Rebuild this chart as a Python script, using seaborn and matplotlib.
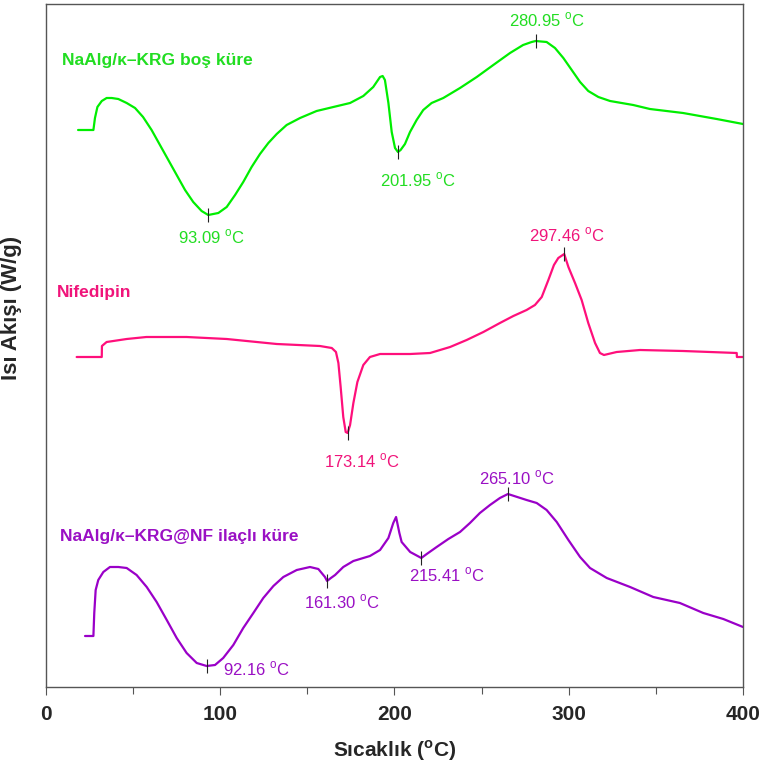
import matplotlib
matplotlib.use("Agg")
import matplotlib.pyplot as plt
import seaborn as sns
import pandas as pd
import numpy as np

# ---------------- data ----------------
green_T = [18.4, 27.2, 28.1, 29.5, 32.0, 34.8, 37.7, 41.5, 46.3, 51.1, 55.7, 60.6, 65.4, 70.2,
           75.0, 79.8, 84.5, 89.3, 93.1, 98.9, 103.7, 108.5, 113.2, 118.0, 122.8, 127.6,
           132.4, 138.1, 145.8, 155.3, 164.9, 174.5, 182.1, 187.8, 191.7, 193.2, 194.5,
           196.5, 198.4, 200.3, 202.0, 203.5, 206.0, 208.9, 212.7, 216.5, 221.3, 228.0,
           237.6, 247.2, 256.7, 266.3, 273.8, 278.7, 281.0, 287.3, 292.1, 296.9, 301.7,
           306.5, 311.2, 317.0, 323.7, 337.0, 346.6, 365.6, 384.9, 400.0]
green_H = [5.70, 5.70, 5.82, 5.93, 5.99, 6.02, 6.02, 6.01, 5.97, 5.92, 5.83, 5.70, 5.55, 5.40,
           5.25, 5.10, 4.98, 4.89, 4.85, 4.87, 4.93, 5.05, 5.18, 5.33, 5.46, 5.57,
           5.66, 5.75, 5.82, 5.89, 5.93, 5.97, 6.04, 6.13, 6.23, 6.24, 6.20,
           5.97, 5.68, 5.52, 5.48, 5.50, 5.56, 5.68, 5.80, 5.90, 5.97, 6.02,
           6.12, 6.23, 6.35, 6.47, 6.55, 6.58, 6.59, 6.58, 6.52, 6.42, 6.30,
           6.18, 6.09, 6.03, 5.99, 5.95, 5.91, 5.87, 5.81, 5.76]

pink_T = [17.6, 32.0, 32.1, 34.8, 46.3, 57.6, 80.7, 103.7, 132.4, 157.2, 164.0, 166.4,
          167.8, 169.1, 170.6, 172.0, 173.1, 174.5, 176.4, 178.7, 182.1, 185.9, 191.7,
          209.0, 220.4, 231.9, 241.4, 251.0, 260.5, 268.2, 275.8, 280.6, 284.5, 288.3,
          291.5, 294.0, 297.4, 299.8, 303.6, 307.4, 311.2, 315.1, 317.9, 320.2, 327.5,
          340.9, 365.7, 396.4, 396.5, 400.0]
pink_H = [3.43, 3.43, 3.54, 3.58, 3.61, 3.63, 3.63, 3.61, 3.56, 3.54, 3.52, 3.48,
          3.37, 3.13, 2.83, 2.68, 2.67, 2.75, 2.97, 3.18, 3.35, 3.43, 3.46,
          3.46, 3.47, 3.53, 3.60, 3.68, 3.77, 3.84, 3.90, 3.95, 4.03, 4.20,
          4.35, 4.42, 4.46, 4.33, 4.17, 4.00, 3.77, 3.57, 3.47, 3.45, 3.48,
          3.50, 3.49, 3.47, 3.43, 3.43]

purple_T = [22.4, 27.2, 27.7, 28.5, 30.0, 32.9, 36.7, 41.5, 46.3, 52.0, 57.8, 63.5, 69.3,
            75.0, 80.7, 86.5, 92.2, 97.0, 101.7, 107.5, 113.2, 119.0, 124.7, 130.5, 136.2,
            143.9, 151.5, 156.3, 160.1, 161.3, 163.5, 165.9, 170.6, 176.4, 185.9, 191.7,
            196.5, 199.3, 200.9, 202.8, 204.1, 209.0, 215.4, 218.5, 224.2, 230.9, 237.6,
            243.3, 249.0, 254.8, 260.5, 265.1, 275.8, 281.6, 287.3, 293.1, 299.8, 306.5,
            312.2, 321.8, 335.2, 348.5, 363.8, 377.2, 388.7, 400.0]
purple_H = [0.64, 0.64, 0.87, 1.10, 1.20, 1.28, 1.33, 1.33, 1.32, 1.25, 1.13, 0.98, 0.80,
            0.62, 0.47, 0.37, 0.34, 0.35, 0.42, 0.55, 0.72, 0.87, 1.02, 1.14, 1.23,
            1.30, 1.33, 1.31, 1.23, 1.19, 1.22, 1.25, 1.33, 1.39, 1.44, 1.50,
            1.62, 1.77, 1.83, 1.67, 1.58, 1.48, 1.42, 1.46, 1.53, 1.61, 1.68,
            1.77, 1.87, 1.95, 2.02, 2.06, 2.00, 1.97, 1.90, 1.78, 1.60, 1.43,
            1.32, 1.22, 1.13, 1.03, 0.97, 0.87, 0.81, 0.73]

series_names = ["NaAlg/κ–KRG boş küre", "Nifedipin", "NaAlg/κ–KRG@NF ilaçlı küre"]
series_colors = ["#00ee00", "#ff0f7b", "#9a00c8"]
label_colors = ["#22dd22", "#f0147a", "#9a10c4"]

# peak temperatures and label offsets (pixels: dx, dy up)
peaks = [
    (0, 93.09, "93.09", (3, -22)),
    (0, 201.95, "201.95", (20, -28)),
    (0, 280.95, "280.95", (11, 21)),
    (1, 297.46, "297.46", (3, 19)),
    (1, 173.14, "173.14", (14, -28)),
    (2, 265.10, "265.10", (9, 16)),
    (2, 215.41, "215.41", (26, -17)),
    (2, 161.30, "161.30", (15, -21)),
    (2, 92.16, "92.16", (50, -3)),
]

x_ticks = [0, 100, 200, 300, 400]
x_minor = [50, 150, 250, 350]

# ---------------- figure ----------------
sns.set_theme(style="white")
plt.rcParams["font.family"] = ["Liberation Sans", "DejaVu Sans"]
plt.rcParams["mathtext.fontset"] = "custom"
plt.rcParams["mathtext.rm"] = "Liberation Sans"
plt.rcParams["mathtext.bf"] = "Liberation Sans:bold"

fig = plt.figure(figsize=(7.61, 7.70), dpi=100)
ax = fig.add_axes([46 / 761, 83 / 770, 697 / 761, 683 / 770])

Ts = [green_T, pink_T, purple_T]
Hs = [green_H, pink_H, purple_H]
df = pd.concat([pd.DataFrame({"T": t, "H": h, "s": n}) for t, h, n in zip(Ts, Hs, series_names)])

sns.lineplot(data=df, x="T", y="H", hue="s", palette=dict(zip(series_names, series_colors)),
             estimator=None, sort=False, linewidth=1.6, legend=False, ax=ax)
for ln in ax.lines:
    ln.set_solid_joinstyle("round")

# peak markers and labels
for si, tp, txt, (dx, dy) in peaks:
    yp = np.interp(tp, Ts[si], Hs[si])
    ax.plot([tp], [yp], marker="|", color="#222222", markersize=10, mew=0.8, zorder=5)
    ax.annotate(txt + r" $^{\mathrm{o}}$C", xy=(tp, yp), xytext=(dx * 0.72, dy * 0.72),
                textcoords="offset points", ha="center", va="center",
                fontsize=12, color=label_colors[si])

# series names
name_pos = [(62, 61), (57, 292), (60, 537)]
for (px, py), n, c in zip(name_pos, series_names, label_colors):
    fig.text(px / 761, 1 - py / 770, n, ha="left", va="center", fontsize=12.5,
             fontweight="bold", color=c)

ax.set_xlim(0, 400)
ax.set_ylim(0.13, 6.96)
ax.set_xticks(x_ticks)
ax.set_xticks(x_minor, minor=True)
ax.set_xticklabels([str(v) for v in x_ticks], fontsize=15, fontweight="bold")
ax.set_yticks([])
ax.tick_params(axis="x", which="major", direction="out", length=6, width=0.8,
               color="#555555", bottom=True, pad=7)
ax.tick_params(axis="x", which="minor", direction="out", length=5, width=0.8,
               color="#555555", bottom=True)
for sp in ax.spines.values():
    sp.set_color("#555555")
    sp.set_linewidth(1.0)
    sp.set_visible(True)

ax.set_xlabel(r"Sıcaklık ($^{\mathbf{o}}$C)", fontsize=15, fontweight="bold", labelpad=10)
ax.set_ylabel("Isı Akışı (W/g)", fontsize=16, fontweight="bold")
ax.yaxis.set_label_coords(-0.034, 0.555)

fig.savefig("out.png", dpi=100)
